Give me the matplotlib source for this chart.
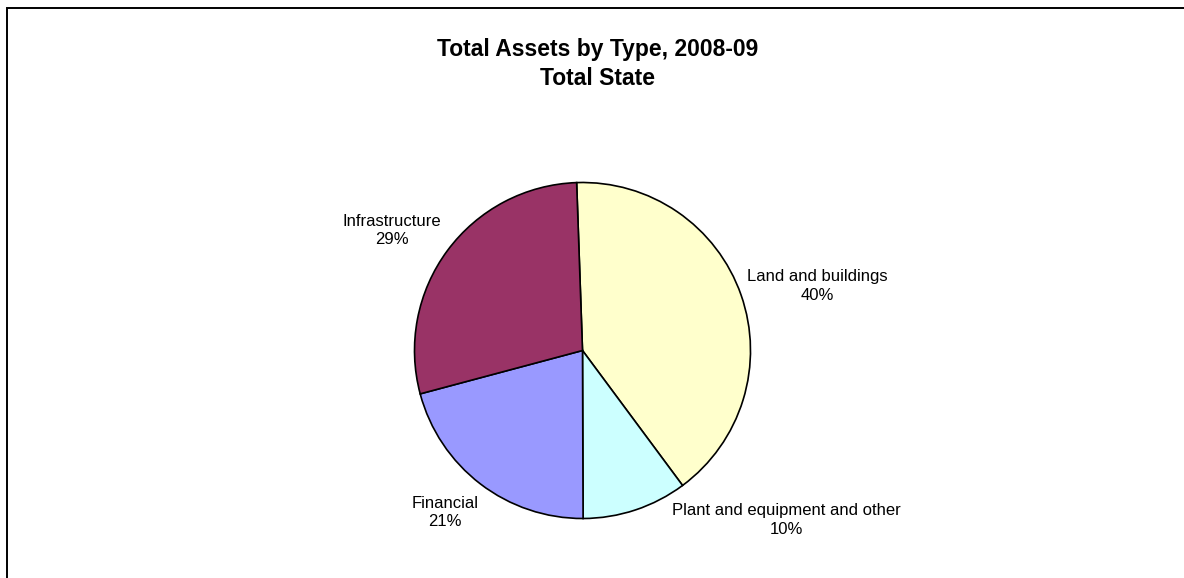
import matplotlib.pyplot as plt

plt.rcParams['font.family'] = ['Liberation Sans', 'DejaVu Sans']

# ----------------------------
# Data
# ----------------------------
categories = ["Land and buildings", "Plant and equipment and other", "Financial", "Infrastructure"]
shares = [40.4, 10.1, 20.9, 28.6]
colors = ["#FFFFCC", "#CCFFFF", "#9999FF", "#993366"]

# label anchor points (figure pixels, y from top)
label_pos = [(817, 286), (786, 520), (445, 513), (392, 231)]

W, H = 1184, 578
fig = plt.figure(figsize=(W / 100, H / 100), dpi=100)
ax = fig.add_axes([0, 0, 1, 1])

# pie drawn in pixel units so it sits where we want it
cx, cy, r = 582.5, H - 350.5, 168
ax.pie(shares, colors=colors, startangle=92, counterclock=False,
       center=(cx, cy), radius=r, frame=True,
       wedgeprops=dict(edgecolor="black", linewidth=1.2))

for name, val, (x, y) in zip(categories, shares, label_pos):
    ax.text(x, H - y, f"{name}\n{round(val)}%", ha="center", va="center",
            fontsize=12, linespacing=1.25)

ax.set_xlim(0, W)
ax.set_ylim(0, H)
ax.set_aspect("equal")
ax.axis("off")

# title
ax.text(598, H - 64, "Total Assets by Type, 2008-09\nTotal State", ha="center", va="center",
        fontsize=16.5, fontweight="bold", linespacing=1.3)

# chart area border (left and top edges)
ax.plot([7, 7, W + 5], [-5, H - 8, H - 8], color="black", linewidth=1.4, clip_on=False,
        solid_joinstyle="miter")

fig.savefig("out.png", dpi=100)
